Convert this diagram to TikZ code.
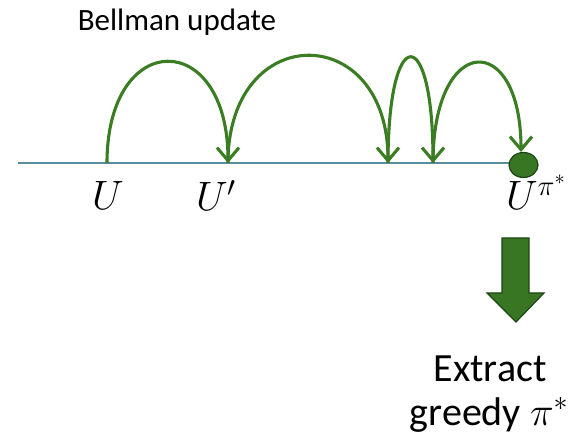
\documentclass[tikz,border=0pt]{standalone}
\usepackage{fix-cm}
\usepackage{fontspec}
\setmainfont{Carlito}
\usetikzlibrary{arrows.meta,shapes.geometric}
\definecolor{arcgreen}{RGB}{58,125,34}
\definecolor{axisblue}{RGB}{86,142,160}
\definecolor{dotgreen}{RGB}{56,118,36}
\definecolor{darkborder}{RGB}{30,70,20}
\tikzset{
  hop/.style={draw=arcgreen, line width=3.1pt, -{Straight Barb[length=13pt,width=22pt,line width=3.1pt]}},
  mlabel/.style={inner sep=0pt, font=\fontsize{41}{44}\selectfont},
  txt/.style={inner sep=0pt, font=\fontsize{40}{46}\selectfont, align=center},
}
\begin{document}
\begin{tikzpicture}[x=1pt,y=-1pt]
\useasboundingbox (0,0) rectangle (584,438);
% axis points
\coordinate (a0) at (18,163);
\coordinate (p0) at (107,163);
\coordinate (p1) at (228,163);
\coordinate (p2) at (388,163);
\coordinate (p3) at (433,163);
\coordinate (p4) at (521,152);
\draw[axisblue, line width=1.8pt] (a0) -- (510,163) coordinate (aend);
% hops
\draw[hop] (p0) .. controls (107,28) and (228,28) .. (p1);
\draw[hop] (p1) .. controls (228,20) and (388,20) .. (p2);
\draw[hop] (p2) .. controls (388,22) and (433,22) .. (p3);
\draw[hop] (p3) .. controls (433,32) and (521,30) .. (p4);
% end dot
\node (dot) [draw=darkborder, fill=dotgreen, line width=1.2pt, ellipse, minimum width=29pt, minimum height=25pt, inner sep=0pt] at (523.5,165) {};
% labels
\node (bell) [inner sep=0pt, font=\fontsize{31}{34}\selectfont, anchor=base] at (177,31) {Bellman update};
\node (lU) [mlabel, anchor=base] at (108,210) {$U$};
\node (lU1) [mlabel, anchor=base] at (216,211) {$U'$};
\node (lUs) [mlabel, anchor=base] at (536,210) {$U^{\scriptstyle\pi^*}$};
% big arrow
\draw[draw=darkborder, fill=dotgreen, line width=1.2pt] (502,238) -- (529,238) -- (529,293) -- (544,293) -- (516,322) -- (487,293) -- (502,293) -- cycle;
\node (ex) [txt, anchor=base] at (490,382) {Extract};
\node (gr) [txt, anchor=base] at (489,425) {greedy $\pi^{\scriptstyle *}$};
\end{tikzpicture}
\end{document}
